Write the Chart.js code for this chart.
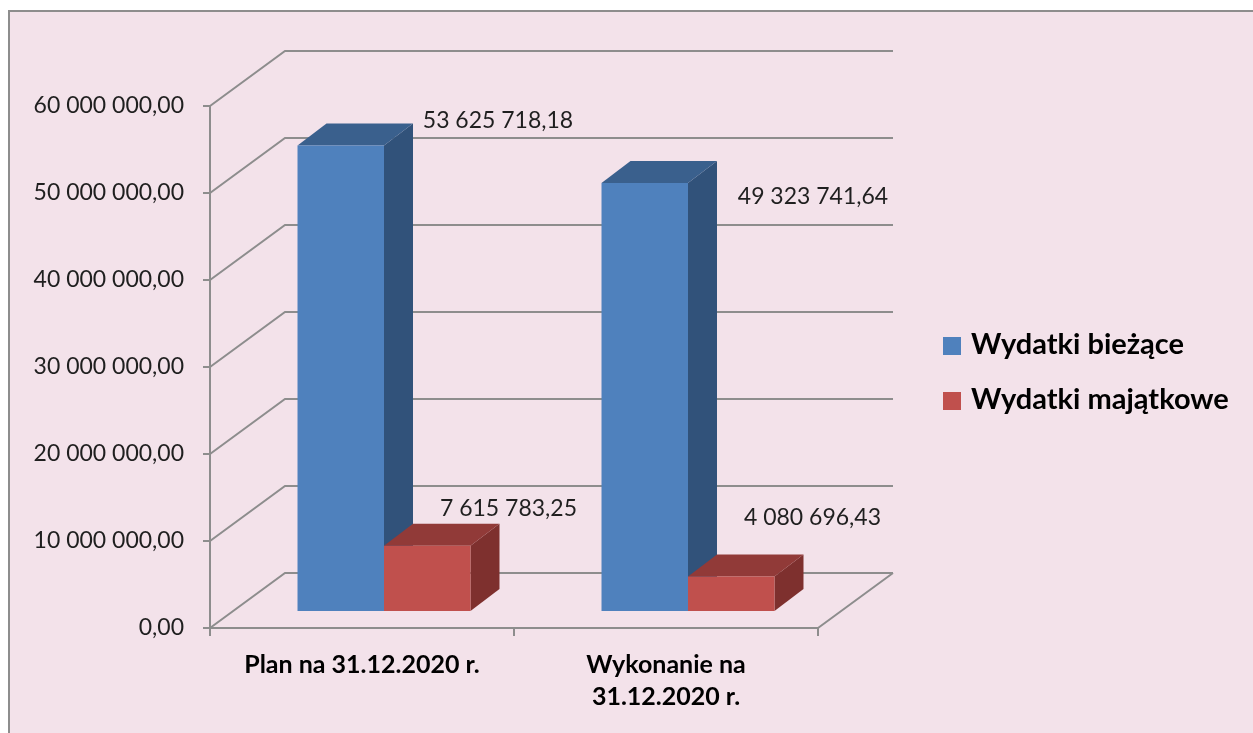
<!DOCTYPE html>
<html><head><meta charset="utf-8">
<script src="https://cdn.jsdelivr.net/npm/chart.js@4/dist/chart.umd.min.js"></script>
<style>html,body{margin:0;padding:0;background:#fff;overflow:hidden}#wrap{width:1253px;height:733px;position:relative}</style>
</head><body><div id="wrap"><canvas id="c" width="1253" height="733"></canvas></div>
<script>
// ---- data ----
const categories = [["Plan na 31.12.2020 r."], ["Wykonanie na", "31.12.2020 r."]];
const seriesNames = ["Wydatki bieżące", "Wydatki majątkowe"];
const wydatkiBiezace = [53625718.18, 49323741.64];
const wydatkiMajatkowe = [7615783.25, 4080696.43];
const yMin = 0, yMax = 60000000, yStep = 10000000;

// ---- style / layout ----
const FONT = "Lato, 'Open Sans', sans-serif";
const BG = "rgb(243,226,234)";
const GRID = "#8d8d8d";
const frontColors = ["#4F81BD", "#C0504D"];
const sideColors = ["#31527A", "#7E302E"];
const topColors = ["#3A608D", "#913A38"];
const WALL = {dx: 75, dy: -55};      // depth of the back wall
const PLANE = {dx: 22, dy: -16};     // bar front plane offset
const DEPTH = {dx: 29, dy: -22};     // bar depth
const labelNudges = [[[114, -25], [125, 14]], [[38, -37], [38, -59]]];

function fmt(v) {
  const parts = v.toFixed(2).split(".");
  return parts[0].replace(/\B(?=(\d{3})+(?!\d))/g, " ") + "," + parts[1];
}

const threeD = {
  id: "threeD",
  beforeDraw(chart) {
    const ctx = chart.ctx;
    ctx.save();
    ctx.fillStyle = "#fff";
    ctx.fillRect(0, 0, chart.width, chart.height);
    ctx.fillStyle = BG;
    ctx.fillRect(9, 11, chart.width, chart.height);
    ctx.strokeStyle = GRID;
    ctx.lineWidth = 2;
    ctx.strokeRect(9, 11, chart.width + 20, chart.height + 20);
    // back wall & side wall grid
    const a = chart.chartArea, y = chart.scales.y;
    ctx.beginPath();
    y.ticks.forEach(t => {
      const py = Math.round(y.getPixelForValue(t.value));
      ctx.moveTo(a.left, py);
      ctx.lineTo(a.left + WALL.dx, py + WALL.dy);
      ctx.lineTo(a.right + WALL.dx, py + WALL.dy);
    });
    // floor right edge
    const py0 = Math.round(y.getPixelForValue(0));
    ctx.moveTo(a.right, py0);
    ctx.lineTo(a.right + WALL.dx, py0 + WALL.dy);
    ctx.stroke();
    ctx.restore();
  },
  beforeDatasetsDraw(chart) {
    const ctx = chart.ctx;
    ctx.save();
    chart.data.datasets.forEach((ds, i) => {
      chart.getDatasetMeta(i).data.forEach(el => {
        const L = el.x - el.width / 2 + PLANE.dx, R = el.x + el.width / 2 + PLANE.dx;
        const T = el.y + PLANE.dy, B = el.base + PLANE.dy;
        // side
        ctx.fillStyle = sideColors[i];
        ctx.beginPath();
        ctx.moveTo(R, T); ctx.lineTo(R + DEPTH.dx, T + DEPTH.dy);
        ctx.lineTo(R + DEPTH.dx, B + DEPTH.dy); ctx.lineTo(R, B);
        ctx.closePath(); ctx.fill();
        // top
        ctx.fillStyle = topColors[i];
        ctx.beginPath();
        ctx.moveTo(L, T); ctx.lineTo(R, T);
        ctx.lineTo(R + DEPTH.dx, T + DEPTH.dy); ctx.lineTo(L + DEPTH.dx, T + DEPTH.dy);
        ctx.closePath(); ctx.fill();
      });
    });
    ctx.translate(PLANE.dx, PLANE.dy);
  },
  afterDatasetsDraw(chart) {
    const ctx = chart.ctx;
    ctx.restore();
    ctx.save();
    ctx.font = "23px " + FONT;
    ctx.fillStyle = "#1f1f1f";
    ctx.textAlign = "center";
    ctx.textBaseline = "middle";
    chart.data.datasets.forEach((ds, i) => {
      chart.getDatasetMeta(i).data.forEach((el, j) => {
        const R = el.x + el.width / 2 + PLANE.dx, T = el.y + PLANE.dy;
        const n = labelNudges[i][j];
        ctx.fillText(fmt(ds.data[j]), R + n[0], T + n[1]);
      });
    });
    // legend
    ctx.textAlign = "left";
    ctx.font = "bold 29px " + FONT;
    ctx.fillStyle = "#000";
    chart.data.datasets.forEach((ds, i) => {
      const cy = 346 + i * 55;
      ctx.fillStyle = frontColors[i];
      ctx.fillRect(943, cy - 9, 18, 18);
      ctx.fillStyle = "#000";
      ctx.fillText(ds.label, 971, cy - 1);
    });
    ctx.restore();
  }
};

new Chart(document.getElementById("c"), {
  type: "bar",
  data: {
    labels: categories,
    datasets: [
      {label: seriesNames[0], data: wydatkiBiezace, backgroundColor: frontColors[0]},
      {label: seriesNames[1], data: wydatkiMajatkowe, backgroundColor: frontColors[1]}
    ]
  },
  options: {
    responsive: false,
    animation: false,
    devicePixelRatio: 1,
    layout: {padding: {left: 0, top: 106, right: 435, bottom: 0}},
    datasets: {bar: {categoryPercentage: 0.569, barPercentage: 1.0}},
    plugins: {legend: {display: false}, tooltip: {enabled: false}},
    scales: {
      x: {
        offset: true,
        grid: {drawOnChartArea: false, drawTicks: true, tickLength: 8, color: GRID, lineWidth: 2},
        border: {display: true, color: GRID, width: 2},
        ticks: {font: {family: FONT, size: 25, weight: "bold", lineHeight: 1.28}, color: "#000", padding: 13},
        afterFit(s) { s.height = 733 - 628; }
      },
      y: {
        min: yMin, max: yMax,
        ticks: {stepSize: yStep, callback: v => fmt(v), font: {family: FONT, size: 23}, color: "#1f1f1f", padding: 19},
        grid: {drawOnChartArea: false, drawTicks: true, tickLength: 7, color: GRID, lineWidth: 2},
        border: {display: true, color: GRID, width: 2},
        afterFit(s) { s.width = 210; }
      }
    }
  },
  plugins: [threeD]
});
</script></body></html>
